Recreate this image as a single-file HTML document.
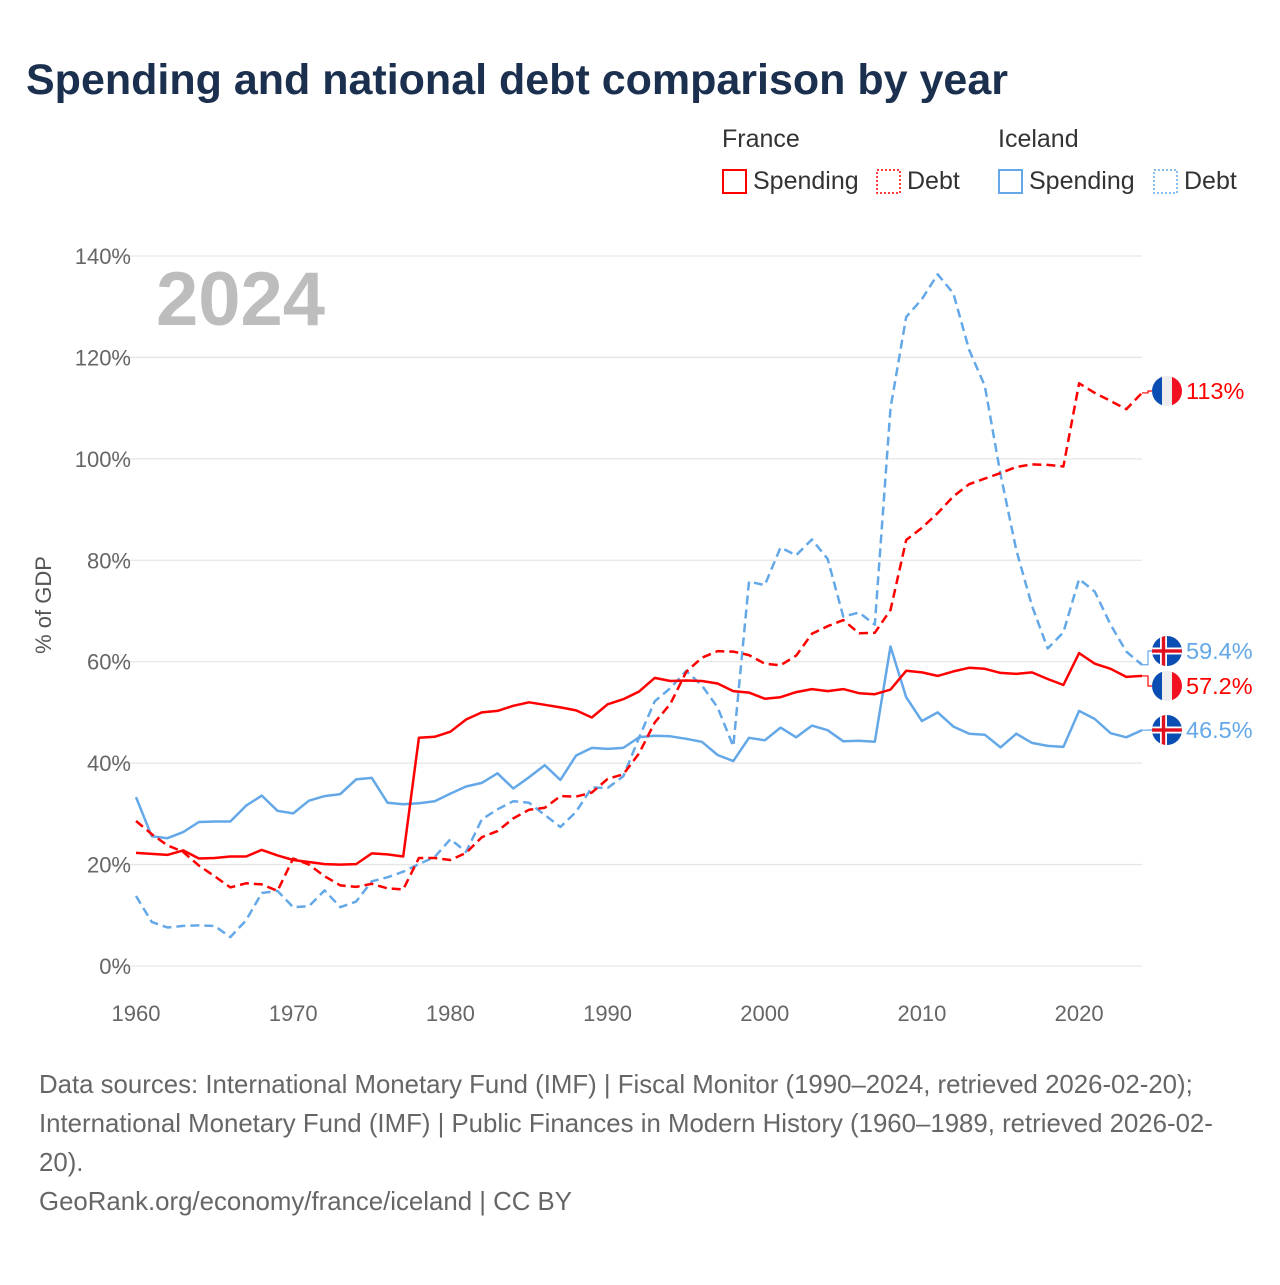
<!DOCTYPE html>
<html><head><meta charset="utf-8"><style>
body{margin:0;background:#fff;width:1280px;height:1280px;overflow:hidden;font-family:"Liberation Sans",sans-serif}
</style></head><body>
<svg width="1280" height="1280" id="chart" xmlns="http://www.w3.org/2000/svg" font-family="Liberation Sans, sans-serif">
<text x="26" y="94" font-size="43" font-weight="bold" fill="#1b2f4e">Spending and national debt comparison by year</text>
<g font-size="25" fill="#333">
<text x="722" y="147">France</text>
<text x="998" y="147">Iceland</text>
<g><rect x="723" y="170" width="23" height="23" fill="none" stroke="#f00" stroke-width="2"/><text x="753" y="189">Spending</text></g>
<g><rect x="877" y="170" width="23" height="23" fill="none" stroke="#f00" stroke-width="1.5" stroke-dasharray="2,2"/><text x="907" y="189">Debt</text></g>
<g><rect x="999" y="170" width="23" height="23" fill="none" stroke="#64a8e8" stroke-width="2"/><text x="1029" y="189">Spending</text></g>
<g><rect x="1154" y="170" width="23" height="23" fill="none" stroke="#64a8e8" stroke-width="1.5" stroke-dasharray="2,2"/><text x="1184" y="189">Debt</text></g>
</g>
<text x="156" y="325" font-size="76" font-weight="bold" fill="#bdbdbd">2024</text>
<text transform="translate(51,605) rotate(-90)" text-anchor="middle" font-size="22" fill="#555">% of GDP</text>
<g id="grid"></g><g id="series"></g><g id="ends"></g>
<g font-size="25.8" fill="#666">
<text x="39" y="1093">Data sources: International Monetary Fund (IMF) | Fiscal Monitor (1990–2024, retrieved 2026-02-20);</text>
<text x="39" y="1132">International Monetary Fund (IMF) | Public Finances in Modern History (1960–1989, retrieved 2026-02-</text>
<text x="39" y="1171">20).</text>
<text x="39" y="1210">GeoRank.org/economy/france/iceland | CC BY</text>
</g>
</svg>
<script>
const years=[];for(let y=1960;y<=2024;y++)years.push(y);
const yTicks=[0,20,40,60,80,100,120,140];
const xTicks=[1960,1970,1980,1990,2000,2010,2020];
const franceSpending=[22.3,22.1,21.9,22.8,21.2,21.3,21.6,21.6,22.9,21.8,20.9,20.5,20.1,20.0,20.1,22.2,22.0,21.6,45.0,45.2,46.2,48.6,50.0,50.3,51.3,52.0,51.5,51.0,50.4,49.0,51.6,52.6,54.1,56.8,56.2,56.3,56.2,55.7,54.2,53.9,52.7,53.0,54.0,54.6,54.2,54.6,53.8,53.6,54.5,58.2,57.9,57.2,58.1,58.8,58.6,57.8,57.6,57.9,56.6,55.4,61.7,59.6,58.6,57.0,57.2];
const franceDebt=[28.6,26.0,23.8,22.5,19.8,17.7,15.5,16.3,16.1,14.8,21.2,20.0,17.7,15.9,15.6,16.2,15.3,15.1,21.3,21.3,20.9,22.3,25.4,26.6,29.1,30.8,31.2,33.5,33.4,34.2,36.9,37.8,41.9,48.0,51.7,58.0,60.8,62.1,62.0,61.3,59.6,59.3,61.2,65.5,67.0,68.2,65.6,65.7,70.2,84.0,86.4,89.3,92.6,95.0,96.1,97.2,98.4,98.9,98.8,98.5,114.9,113.0,111.4,109.8,113.0];
const icelandSpending=[33.3,25.6,25.2,26.4,28.4,28.5,28.5,31.6,33.6,30.6,30.1,32.6,33.5,33.9,36.8,37.1,32.2,31.9,32.1,32.5,34.0,35.4,36.1,38.0,35.0,37.2,39.6,36.7,41.5,43.0,42.8,43.0,45.1,45.4,45.3,44.8,44.2,41.6,40.4,45.0,44.5,47.0,45.1,47.4,46.5,44.3,44.4,44.2,63.0,53.0,48.3,50.0,47.2,45.8,45.6,43.1,45.8,44.0,43.4,43.2,50.3,48.7,45.9,45.1,46.5];
const icelandDebt=[13.8,8.7,7.6,7.9,8.0,7.9,5.7,9.0,14.4,14.8,11.6,11.8,14.9,11.6,12.7,16.7,17.5,18.6,20.1,21.5,25.0,22.5,28.9,30.9,32.5,32.2,29.8,27.4,30.4,35.2,35.1,37.4,45.0,52.2,54.8,58.2,55.3,51.0,43.3,75.8,75.1,82.5,81.0,84.1,80.3,68.9,69.7,67.3,110.0,128.0,131.5,136.4,132.6,121.5,114.4,97.0,82.0,71.0,62.6,65.8,76.3,73.8,67.3,62.0,59.4];
const endLabels=["113%","59.4%","57.2%","46.5%"];
const NS="http://www.w3.org/2000/svg";
const X=y=>136+(y-1960)*(1142-136)/64;
const Y=v=>966-v*(966-256)/140;
function mk(tag,attrs,parent){const e=document.createElementNS(NS,tag);for(const k in attrs)e.setAttribute(k,attrs[k]);parent.appendChild(e);return e;}
const grid=document.getElementById('grid');
yTicks.forEach(t=>{
 const l=mk('line',{x1:108,x2:1142,y1:Y(t),y2:Y(t),stroke:'#e6e6e6','stroke-width':1.3},grid);
 
 
 const tx=mk('text',{x:131,y:Y(t)+8,'text-anchor':'end','font-size':22,fill:'#666'},grid);
 tx.textContent=t+'%';
 
 
});
xTicks.forEach(t=>{
 const tx=mk('text',{x:X(t),y:1021,'text-anchor':'middle','font-size':22,fill:'#666'},grid);
 tx.textContent=t;
 
 
});
const ser=document.getElementById('series');
function line(vals,color,dash,name){
 const d=vals.map((v,i)=>(i?'L':'M')+X(years[i]).toFixed(1)+','+Y(v).toFixed(1)).join('');
 const p=mk('path',{d:d,fill:'none',stroke:color,'stroke-width':2.5,'stroke-linejoin':'round'},ser);
 if(dash)p.setAttribute('stroke-dasharray','9,5');
 
 
}
line(icelandDebt,'#64a8e8',true,'iceland-debt-line');
line(icelandSpending,'#64a8e8',false,'iceland-spending-line');
line(franceDebt,'#f00',true,'france-debt-line');
line(franceSpending,'#f00',false,'france-spending-line');
const ends=document.getElementById('ends');
const defs=mk('defs',{},ends);
const ep=[
 {v:franceDebt[64],c:'#f00',f:'fr',ly:391,t:endLabels[0]},
 {v:icelandDebt[64],c:'#64a8e8',f:'is',ly:651,t:endLabels[1]},
 {v:franceSpending[64],c:'#f00',f:'fr',ly:686,t:endLabels[2]},
 {v:icelandSpending[64],c:'#64a8e8',f:'is',ly:730,t:endLabels[3]}
];
ep.forEach((e,i)=>{
 const cx=1167,cy=e.ly,r=15;
 mk('path',{d:`M${X(2024)},${Y(e.v)}H1148V${cy}H1152`,fill:'none',stroke:e.c,'stroke-width':1.2},ends);
 const cp=mk('clipPath',{id:'c'+i},defs);mk('circle',{cx:cx,cy:cy,r:r},cp);
 const g=mk('g',{'clip-path':`url(#c${i})`},ends);
 
 
 if(e.f==='fr'){
  mk('rect',{x:cx-r,y:cy-r,width:10,height:30,fill:'#0a4eb3'},g);
  mk('rect',{x:cx-5,y:cy-r,width:10,height:30,fill:'#eee'},g);
  mk('rect',{x:cx+5,y:cy-r,width:10,height:30,fill:'#f01020'},g);
 }else{
  mk('rect',{x:cx-r,y:cy-r,width:30,height:30,fill:'#0a4eb3'},g);
  mk('rect',{x:cx-r,y:cy-3.5,width:30,height:7,fill:'#fff'},g);
  mk('rect',{x:cx-7,y:cy-r,width:7,height:30,fill:'#fff'},g);
  mk('rect',{x:cx-r,y:cy-1.7,width:30,height:3.4,fill:'#e01020'},g);
  mk('rect',{x:cx-5.2,y:cy-r,width:3.4,height:30,fill:'#e01020'},g);
 }
 const tx=mk('text',{x:1186,y:cy+8,'font-size':23.5,fill:e.c},ends);
 tx.textContent=e.t;
 
 
});
</script>
</body></html>
